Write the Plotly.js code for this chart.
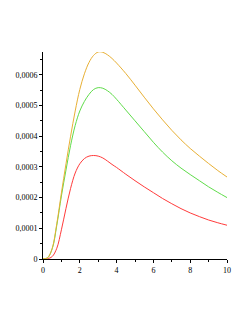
<!DOCTYPE html>
<html><head><meta charset="utf-8">
<script src="https://cdn.plot.ly/plotly-3.0.1.min.js"></script>
<style>html,body{margin:0;padding:0;background:#fff;}#chart{width:249px;height:323px;}</style>
</head><body><div id="chart"></div>
<script>
var xs = [0,0.25,0.5,0.75,1,1.25,1.5,1.75,2,2.25,2.5,2.75,3,3.25,3.5,3.75,4,4.5,5,5.5,6,6.5,7,7.5,8,8.5,9,9.5,10];
var orangeVals = [0,0.04,0.35,1.15,2.15,3.1,4.0,4.82,5.52,6.03,6.40,6.63,6.74,6.73,6.65,6.53,6.38,6.04,5.66,5.27,4.89,4.53,4.19,3.88,3.60,3.35,3.11,2.88,2.67];
var greenVals  = [0,0.04,0.33,1.1,2.05,2.9,3.7,4.35,4.82,5.13,5.36,5.52,5.58,5.56,5.48,5.36,5.2,4.85,4.50,4.15,3.80,3.48,3.20,2.96,2.75,2.55,2.35,2.17,2.0];
var redVals    = [0,0.01,0.08,0.35,0.95,1.65,2.3,2.8,3.1,3.27,3.35,3.37,3.35,3.29,3.19,3.08,2.98,2.76,2.55,2.35,2.16,1.97,1.80,1.64,1.50,1.38,1.27,1.18,1.10];
var scale = 1e-4;
var yTickVals = [0,0.0001,0.0002,0.0003,0.0004,0.0005,0.0006];
var yTickText = ["0","0,0001","0,0002","0,0003","0,0004","0,0005","0,0006"];
var xTickVals = [0,2,4,6,8,10];
var xTickText = ["0","2","4","6","8","10"];

function tr(vals, color){
  return {x: xs, y: vals.map(function(v){return v*scale;}), mode:'lines',
    line:{color:color, width:1, shape:'spline', smoothing:1}, hoverinfo:'skip'};
}
var data = [tr(redVals,'#ff3b3b'), tr(greenVals,'#5fdc4a'), tr(orangeVals,'#e8b035')];
var fnt = {family:'Liberation Serif, Times New Roman, serif', size:8, color:'#000'};
var layout = {
  width:249, height:323, showlegend:false,
  paper_bgcolor:'#fff', plot_bgcolor:'#fff',
  margin:{l:43, r:22, t:52, b:64},
  xaxis:{range:[0,10], showgrid:false, zeroline:false, showline:true, linecolor:'#000', linewidth:1,
    ticks:'outside', ticklen:3, tickcolor:'#000', tickwidth:1, tickvals:xTickVals, ticktext:xTickText,
    tickfont:fnt, minor:{ticks:'outside', ticklen:2, tickcolor:'#000', dtick:1, showgrid:false}},
  yaxis:{range:[0,0.000674], showgrid:false, zeroline:false, showline:true, linecolor:'#000', linewidth:1,
    ticks:'outside', ticklen:3, tickcolor:'#000', tickwidth:1, tickvals:yTickVals, ticktext:yTickText,
    tickfont:fnt, minor:{ticks:'outside', ticklen:2, tickcolor:'#000', dtick:0.00005, showgrid:false}}
};
Plotly.newPlot('chart', data, layout, {staticPlot:true, displayModeBar:false});
</script></body></html>
